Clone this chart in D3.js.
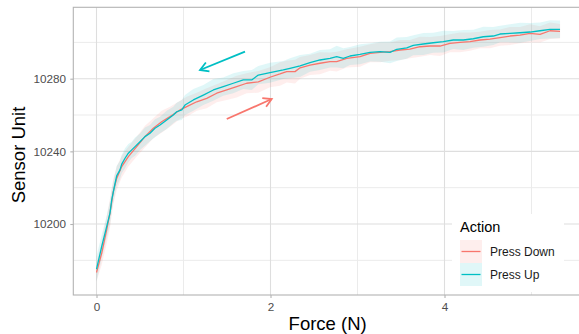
<!DOCTYPE html>
<html><head><meta charset="utf-8">
<script src="https://cdn.jsdelivr.net/npm/d3@7"></script>
<style>body{margin:0;background:#fff}svg{display:block}</style>
</head><body>
<script>
// ---- data ----
const forceUp = [0.00,0.06,0.117,0.155,0.175,0.213,0.232,0.27,0.29,0.328,0.366,0.405,0.443,0.50,0.557,0.615,0.672,0.73,0.807,0.883,0.922,0.98,1.017,1.113,1.228,1.343,1.457,1.572,1.687,1.784,1.86,1.994,2.147,2.224,2.34,2.454,2.569,2.684,2.761,2.837,2.914,3.029,3.144,3.259,3.374,3.451,3.566,3.641,3.756,3.871,3.986,4.101,4.216,4.331,4.446,4.561,4.638,4.753,4.868,4.983,5.098,5.213,5.328];
const sensorUp = [10175.2,10187.6,10198.6,10206.0,10213.3,10222.3,10226.5,10229.8,10233.0,10236.2,10239.0,10240.8,10242.6,10245.3,10248.1,10250.0,10252.7,10254.5,10257.3,10260.0,10261.8,10262.8,10265.5,10268.3,10271.0,10273.8,10275.6,10277.5,10279.3,10279.3,10282.0,10283.3,10284.8,10285.7,10287.0,10288.8,10290.3,10291.2,10292.1,10291.2,10292.5,10293.4,10294.5,10294.9,10294.5,10296.2,10297.0,10298.4,10299.1,10299.8,10300.4,10301.3,10301.3,10302.0,10303.1,10303.5,10304.6,10305.0,10305.3,10305.7,10306.4,10307.2,10307.2];
const sdUp = [7,6.5,6,6.5,6,5.5,5.5,5,5,5.5,5,4.5,5,4.5,5,4.5,5,4.5,5,4.5,5,5.5,5.5,6,5.5,6,5,5.5,5,5.5,5,5.5,5,5.5,6,5,5.5,5,6,5.5,5,5.5,5,5.5,6,6.5,6,5.5,6,5.5,6,5,5.5,5,5.5,5,4.5,5,5.5,5,4.5,5,4.8];

const forceDown = [0.00,0.06,0.117,0.155,0.193,0.232,0.29,0.366,0.462,0.557,0.653,0.749,0.845,0.96,1.037,1.152,1.267,1.382,1.497,1.611,1.726,1.86,1.994,2.109,2.186,2.282,2.34,2.454,2.569,2.684,2.761,2.876,3.029,3.144,3.259,3.374,3.489,3.603,3.718,3.833,3.948,4.063,4.178,4.293,4.408,4.523,4.638,4.753,4.868,4.983,5.098,5.213,5.328];
const sensorDown = [10173.3,10184.0,10196.8,10206.0,10217.8,10225.1,10231.6,10237.1,10242.6,10248.1,10252.7,10256.3,10259.1,10262.8,10264.6,10267.3,10269.2,10272.0,10273.8,10275.6,10277.5,10278.3,10280.8,10282.6,10283.9,10283.9,10286.0,10287.5,10288.5,10289.4,10289.4,10291.2,10292.1,10294.0,10294.5,10294.9,10295.8,10296.3,10297.6,10298.0,10298.0,10299.5,10300.0,10300.4,10301.3,10301.8,10302.6,10303.5,10304.0,10305.0,10304.4,10306.4,10306.1];
const sdDown = [5,6.5,7.5,8,7,6.5,6,5.5,5.5,6,5.5,6,5.5,5,5.5,5,5.5,5,5.5,6,5.5,6,5.5,6.5,6,6.5,6,5.5,6,5,5.5,5,5.5,5,5.5,5,5.5,5,5.5,5,5.5,5,5.5,5,4.5,5,4.5,5,4.5,5,4.5,4.5,4];

const xTicks = [0, 2, 4];
const xMinor = [1, 3, 5];
const yTicks = [10200, 10240, 10280];
const yMinor = [10180, 10220, 10260, 10300];
const seriesNames = ["Press Down", "Press Up"];
const seriesColors = ["#F8766D", "#00BFC4"];
// arrows: [x0, y0, x1, y1]
const arrowDown = [1.497, 10257.8, 2.014, 10268.8];
const arrowUp = [1.707, 10294.9, 1.19, 10284.8];

// ---- layout ----
const W = 579, H = 334;
const panel = {l: 73.3, r: 582, t: 7.3, b: 295};
const x = d3.scaleLinear().domain([0, 4]).range([96.5, 444.5]);
const y = d3.scaleLinear().domain([10200, 10280]).range([224, 78.7]);
const font = "'Liberation Sans', Arial, Helvetica, sans-serif";

const svg = d3.select("body").append("svg").attr("width", W).attr("height", H)
  .style("font-family", font);
svg.append("rect").attr("width", W).attr("height", H).attr("fill", "#fff");

const defs = svg.append("defs");
defs.append("clipPath").attr("id", "clip").append("rect")
  .attr("x", panel.l).attr("y", panel.t).attr("width", panel.r - panel.l).attr("height", panel.b - panel.t);

const grid = svg.append("g");
grid.selectAll(".xm").data(xMinor).join("line")
  .attr("x1", d => x(d)).attr("x2", d => x(d)).attr("y1", panel.t).attr("y2", panel.b)
  .attr("stroke", "#EBEBEB").attr("stroke-width", 1);
grid.selectAll(".ym").data(yMinor).join("line")
  .attr("x1", panel.l).attr("x2", panel.r).attr("y1", d => y(d)).attr("y2", d => y(d))
  .attr("stroke", "#EBEBEB").attr("stroke-width", 1);
grid.selectAll(".xM").data(xTicks).join("line")
  .attr("x1", d => x(d)).attr("x2", d => x(d)).attr("y1", panel.t).attr("y2", panel.b)
  .attr("stroke", "#DEDEDE").attr("stroke-width", 1.1);
grid.selectAll(".yM").data(yTicks).join("line")
  .attr("x1", panel.l).attr("x2", panel.r).attr("y1", d => y(d)).attr("y2", d => y(d))
  .attr("stroke", "#DEDEDE").attr("stroke-width", 1.1);

const series = [
  {name: seriesNames[0], color: seriesColors[0], xs: forceDown, ys: sensorDown, sd: sdDown},
  {name: seriesNames[1], color: seriesColors[1], xs: forceUp, ys: sensorUp, sd: sdUp}
];
const plot = svg.append("g").attr("clip-path", "url(#clip)");
const area = d3.area().x(d => x(d.x)).y0(d => y(d.y - d.s)).y1(d => y(d.y + d.s));
const line = d3.line().x(d => x(d.x)).y(d => y(d.y));
series.forEach(s => {
  const pts = s.xs.map((v, i) => ({x: v, y: s.ys[i], s: s.sd[i]}));
  plot.append("path").attr("d", area(pts)).attr("fill", s.color).attr("fill-opacity", 0.12);
});
series.forEach(s => {
  const pts = s.xs.map((v, i) => ({x: v, y: s.ys[i]}));
  plot.append("path").attr("d", line(pts)).attr("fill", "none")
    .attr("stroke", s.color).attr("stroke-width", 1.3).attr("stroke-linejoin", "round");
});

// arrows
function drawArrow(a, color) {
  const x0 = x(a[0]), y0 = y(a[1]), x1 = x(a[2]), y1 = y(a[3]);
  const g = plot.append("g").attr("stroke", color).attr("stroke-width", 1.8).attr("fill", "none");
  g.append("line").attr("x1", x0).attr("y1", y0).attr("x2", x1).attr("y2", y1);
  const ang = Math.atan2(y1 - y0, x1 - x0), len = 9.5, sp = Math.PI / 6;
  const p = [[x1 - len * Math.cos(ang - sp), y1 - len * Math.sin(ang - sp)], [x1, y1],
             [x1 - len * Math.cos(ang + sp), y1 - len * Math.sin(ang + sp)]];
  g.append("path").attr("d", d3.line()(p)).attr("stroke-linejoin", "miter");
}
drawArrow(arrowUp, seriesColors[1]);
drawArrow(arrowDown, seriesColors[0]);

// border
svg.append("rect").attr("x", panel.l).attr("y", panel.t)
  .attr("width", panel.r - panel.l).attr("height", panel.b - panel.t)
  .attr("fill", "none").attr("stroke", "#B3B3B3").attr("stroke-width", 1.1);

// axes
const xAxis = svg.append("g").attr("transform", `translate(0,${panel.b})`)
  .call(d3.axisBottom(x).tickValues(xTicks).tickFormat(d3.format("d")).tickSize(3).tickPadding(4.3));
const yAxis = svg.append("g").attr("transform", `translate(${panel.l},0)`)
  .call(d3.axisLeft(y).tickValues(yTicks).tickFormat(d => String(d)).tickSize(3).tickPadding(4.3));
[xAxis, yAxis].forEach(a => {
  a.select(".domain").remove();
  a.selectAll(".tick line").attr("stroke", "#B3B3B3").attr("stroke-width", 1.1);
  a.selectAll(".tick text").attr("fill", "#4D4D4D").style("font-size", "11.7px").style("font-family", font);
});

// titles
svg.append("text").attr("x", (panel.l + panel.r) / 2).attr("y", 330)
  .attr("text-anchor", "middle").style("font-size", "18.5px").attr("fill", "#000").text("Force (N)");
svg.append("text").attr("transform", `translate(25,155) rotate(-90)`)
  .attr("text-anchor", "middle").style("font-size", "18.5px").attr("fill", "#000").text("Sensor Unit");

// legend
const lg = svg.append("g");
lg.append("rect").attr("x", 452).attr("y", 214).attr("width", 112).attr("height", 78).attr("fill", "#fff");
lg.append("text").attr("x", 460).attr("y", 231.5).style("font-size", "14.5px").attr("fill", "#000").text("Action");
series.forEach((s, i) => {
  const ky = 240 + i * 23;
  lg.append("rect").attr("x", 460).attr("y", ky).attr("width", 22).attr("height", 23)
    .attr("fill", s.color).attr("fill-opacity", 0.12);
  lg.append("line").attr("x1", 461.5).attr("x2", 480.5).attr("y1", ky + 11.5).attr("y2", ky + 11.5)
    .attr("stroke", s.color).attr("stroke-width", 1.3);
  lg.append("text").attr("x", 490).attr("y", ky + 15.7).style("font-size", "12px").attr("fill", "#1A1A1A").text(s.name);
});
</script>
</body></html>
